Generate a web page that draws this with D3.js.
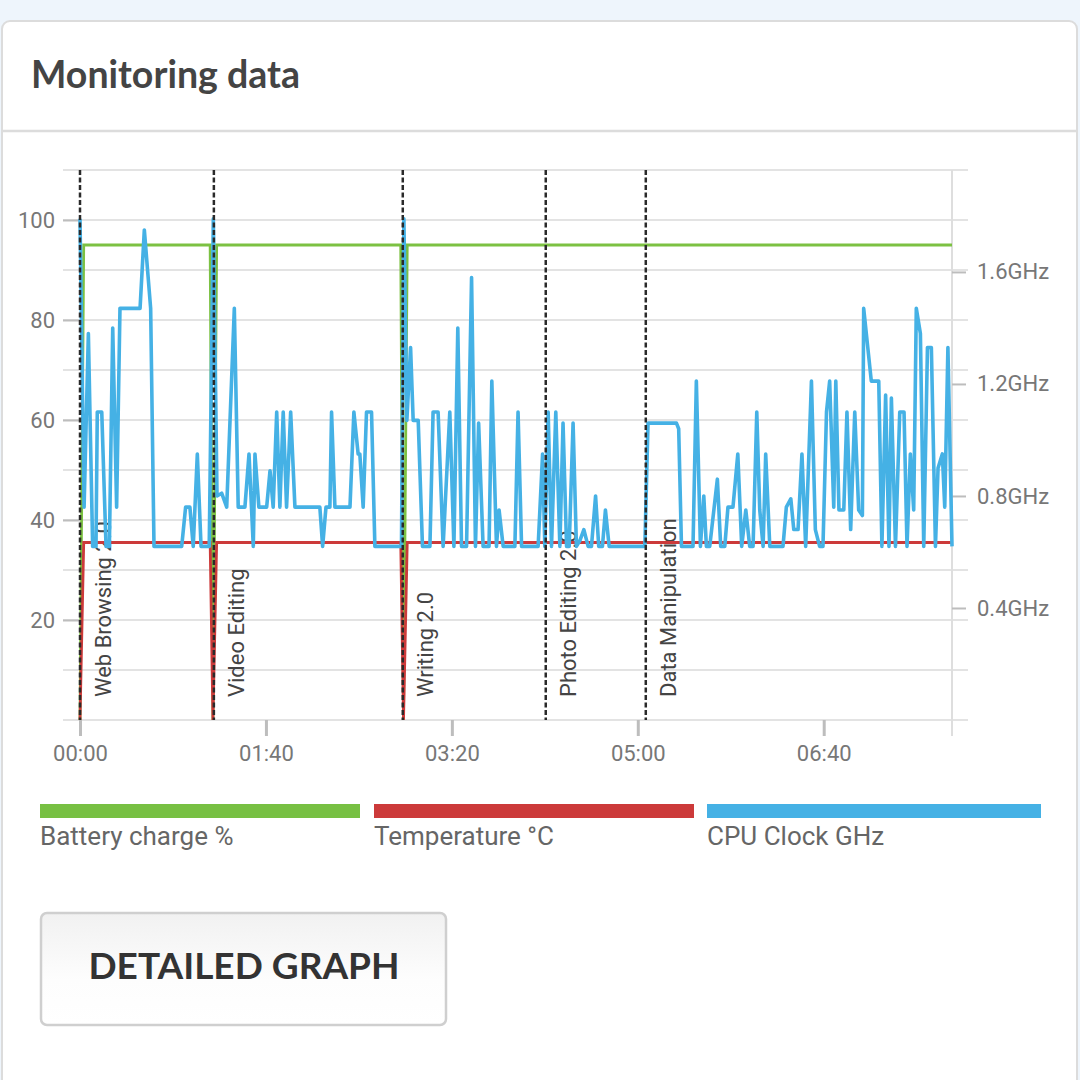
<!DOCTYPE html>
<html>
<head>
<meta charset="utf-8">
<script src="https://cdn.jsdelivr.net/npm/d3@7"></script>
<style>
  html, body { margin: 0; padding: 0; background: #eef5fc; }
  svg { display: block; }
</style>
</head>
<body>
<svg id="chart" width="1080" height="1080"></svg>
<script>
// time in minutes
var batteryTime = [0, 2, 70, 71.5, 73.5, 172.5, 174, 176, 469]
var batteryValue = [0, 95, 95, 0, 95, 95, 0, 95, 95]

var tempTime = [0, 2, 70, 71.5, 73.5, 172.5, 174, 176, 469]
var tempValue = [0, 35.5, 35.5, 0, 35.5, 35.5, 0, 35.5, 35.5]

var cpuTime = [
  0, 2.2, 4.5, 6.8, 8.6, 9.3, 11.7, 14, 15.8, 17.6, 19.7, 21.5, 32.3, 34.6, 38, 39.8,
  54.7, 56.8, 59.1, 60.9, 63.1, 65.1, 69.5,
  71.7, 73.7, 76.2, 78.9, 83, 85.1, 88.7, 90.9, 93.2, 94.1, 96.2, 100.4, 102.2, 103.9,
  105.8, 107.5, 109.3, 111.1, 113.3, 115.6, 129, 130.5, 132.3, 134.4, 135.3, 137.1,
  145.2, 147.3, 149.6, 150.5, 152.3, 154.1, 156.8, 158.6, 172.9,
  174.2, 175.8, 177.8, 179.2, 181.9, 184.2, 188.2, 189.9, 192.6, 195.3, 198.9, 201.1,
  203.2, 205.2, 207.9, 210.6, 212.7, 214.4, 216.8, 220, 221.5, 224, 225.4, 227.6,
  233.9, 235.6, 237.5, 246.4, 248.8, 250, 251.8, 253.6, 255.9, 258.1, 259.8, 261.7,
  263.1, 265.2, 267, 268.8, 271, 273.3, 275.1, 277.3, 279, 281, 282.6, 284.6,
  303.8, 305.5, 320.8, 322, 323.5, 329.7, 331.5, 333.7, 335.5, 336.9, 338.7, 342.8,
  344.6, 346.8, 348.5, 351.2, 353.8, 355.9, 358.1, 360.2, 362, 364, 365.6, 367.4,
  368.8, 371, 378.1, 379.9, 382.3, 383.9, 386.2, 388.3, 390.3, 393.4, 395.5, 397.8,
  399.6, 401.5, 403.2, 405.4, 406.5, 408.2, 410.8, 412.5, 414.5, 416.7, 418.8, 420.8,
  421.5, 425.6, 429.6, 431.3, 433.3, 435.1, 436.4, 438.6, 440.9, 443.2, 444.8, 446.6,
  448.4, 449.8, 452, 453.8, 455.8, 457.9, 460.1, 461.5, 463.8, 465.1, 466.8, 469
]
var cpuGHz = [
  1.79, 0.76, 1.38, 0.62, 0.62, 1.10, 1.10, 0.62, 0.62, 1.40, 0.76, 1.47, 1.47, 1.75, 1.47, 0.62,
  0.62, 0.76, 0.76, 0.62, 0.95, 0.62, 0.62,
  1.79, 0.80, 0.81, 0.76, 1.47, 0.76, 0.76, 0.95, 0.62, 0.95, 0.76, 0.76, 0.89, 0.76,
  1.10, 0.76, 1.10, 0.76, 1.10, 0.76, 0.76, 0.62, 0.76, 0.76, 1.10, 0.76,
  0.76, 1.10, 0.95, 0.95, 0.76, 1.10, 1.10, 0.62, 0.62,
  1.79, 1.07, 1.33, 1.07, 1.07, 0.62, 0.62, 1.10, 1.10, 0.62, 1.10, 0.62,
  1.40, 0.62, 0.62, 1.58, 0.62, 1.06, 0.62, 0.62, 1.21, 0.62, 0.75, 0.62,
  0.62, 1.10, 0.62, 0.62, 0.95, 0.62, 1.10, 0.62, 1.10, 0.62, 1.06, 0.62,
  0.62, 1.06, 0.62, 0.64, 0.68, 0.62, 0.62, 0.80, 0.62, 0.62, 0.75, 0.62,
  0.62, 1.06, 1.06, 1.04, 0.62, 0.62, 1.21, 0.62, 0.80, 0.62, 0.62, 0.86,
  0.62, 0.62, 0.76, 0.76, 0.95, 0.62, 0.75, 0.62, 0.62, 1.10, 0.75, 0.62,
  0.95, 0.62, 0.62, 0.76, 0.79, 0.68, 0.68, 0.95, 0.62, 1.21, 0.68, 0.62,
  0.62, 1.10, 1.21, 0.76, 1.21, 0.75, 0.75, 1.10, 0.68, 1.10, 0.75, 0.73,
  1.47, 1.21, 1.21, 0.62, 1.16, 0.62, 1.15, 0.62, 1.10, 1.10, 0.62, 0.95,
  0.75, 1.47, 1.38, 0.62, 1.33, 1.33, 0.62, 0.90, 0.95, 0.76, 1.33, 0.62
]

var markerTime = [0, 72, 173.6, 250.5, 304.3]
var markerLabel = ['Web Browsing 2.0', 'Video Editing', 'Writing 2.0', 'Photo Editing 2.0', 'Data Manipulation']

var xTicks = [0, 100, 200, 300, 400]
var leftTicks = [20, 40, 60, 80, 100]
var rightTicks = [0.4, 0.8, 1.2, 1.6]
var gridValues = d3.range(0, 111, 10)

var legendNames = ['Battery charge %', 'Temperature °C', 'CPU Clock GHz']
var legendColors = ['#77c043', '#cc3a3a', '#45b1e5']

var svg = d3.select('#chart')

// card
svg.append('rect').attr('width', 1080).attr('height', 1080).attr('fill', '#eef5fc')
svg.append('rect')
    .attr('x', 2).attr('y', 21).attr('width', 1075).attr('height', 1090)
    .attr('rx', 8)
    .attr('fill', '#fff')
    .attr('stroke', '#dcdcdc').attr('stroke-width', 2)
svg.append('line')
    .attr('x1', 2).attr('x2', 1077).attr('y1', 131).attr('y2', 131)
    .attr('stroke', '#dcdcdc').attr('stroke-width', 2.5)
svg.append('text')
    .attr('x', 31).attr('y', 88)
    .style('font-family', 'Lato').style('font-weight', 700).style('font-size', '37.5px')
    .attr('fill', '#444')
    .text('Monitoring data')

var x = d3.scaleLinear().domain([0, 469]).range([80, 952])
var yL = d3.scaleLinear().domain([0, 110]).range([720, 170])
var yR = d3.scaleLinear().domain([0, 1.964]).range([720, 170])

var fmtTime = function (t) {
  var h = Math.floor(t / 60), m = Math.round(t % 60)
  return (h < 10 ? '0' : '') + h + ':' + (m < 10 ? '0' : '') + m
}

var plot = svg.append('g')

// grid
plot.selectAll('line.grid')
    .data(gridValues)
    .enter().append('line')
    .attr('class', 'grid')
    .attr('x1', 63).attr('x2', 968)
    .attr('y1', function (d) { return yL(d) })
    .attr('y2', function (d) { return yL(d) })
    .attr('stroke', '#e3e3e3').attr('stroke-width', 2)

// right axis line
plot.append('line')
    .attr('x1', 952).attr('x2', 952).attr('y1', 170).attr('y2', 736)
    .attr('stroke', '#dedede').attr('stroke-width', 2)

var leftAxis = plot.append('g')
    .attr('transform', 'translate(80,0)')
    .call(d3.axisLeft(yL).tickValues(leftTicks).tickSize(17).tickPadding(8))
var rightAxis = plot.append('g')
    .attr('transform', 'translate(952,0)')
    .call(d3.axisRight(yR).tickValues(rightTicks).tickSize(14).tickPadding(11)
      .tickFormat(function (d) { return d.toFixed(1) + 'GHz' }))
var bottomAxis = plot.append('g')
    .attr('transform', 'translate(0,720)')
    .call(d3.axisBottom(x).tickValues(xTicks).tickSize(16).tickPadding(9).tickFormat(fmtTime))

;[leftAxis, rightAxis, bottomAxis].forEach(function (a) {
  a.select('.domain').remove()
  a.selectAll('text')
      .style('font-family', 'Roboto').style('font-size', '22px').attr('fill', '#777')
  a.selectAll('line').attr('stroke', '#bdbdbd').attr('stroke-width', 2)
})
bottomAxis.selectAll('line').attr('stroke-width', 3)

// marker labels (under the lines)
plot.selectAll('text.marker')
    .data(markerTime)
    .enter().append('text')
    .attr('class', 'marker')
    .attr('transform', function (d) { return 'translate(' + (x(d) + 23) + ',697) rotate(-90)' })
    .attr('dominant-baseline', 'central')
    .style('font-family', 'Roboto').style('font-size', '22px')
    .attr('fill', '#444')
    .text(function (d, i) { return markerLabel[i] })

var lineL = d3.line()
    .x(function (d) { return x(d[0]) })
    .y(function (d) { return yL(d[1]) })
var lineR = d3.line()
    .x(function (d) { return x(d[0]) })
    .y(function (d) { return yR(d[1]) })

var battery = batteryTime.map(function (t, i) { return [t, batteryValue[i]] })
var temp = tempTime.map(function (t, i) { return [t, tempValue[i]] })
var cpu = cpuTime.map(function (t, i) { return [t, cpuGHz[i]] })

plot.append('path').datum(battery)
    .attr('d', lineL).attr('fill', 'none')
    .attr('stroke', '#7cc142').attr('stroke-width', 2.8)
plot.append('path').datum(temp)
    .attr('d', lineL).attr('fill', 'none')
    .attr('stroke', '#cc3a3a').attr('stroke-width', 2.8)
plot.append('path').datum(cpu)
    .attr('d', lineR).attr('fill', 'none')
    .attr('stroke', '#45b1e5').attr('stroke-width', 3.6)
    .attr('stroke-linejoin', 'round')

// dashed markers
plot.selectAll('line.marker')
    .data(markerTime)
    .enter().append('line')
    .attr('class', 'marker')
    .attr('x1', function (d) { return x(d) }).attr('x2', function (d) { return x(d) })
    .attr('y1', 170).attr('y2', 720)
    .attr('stroke', '#2a2a2a').attr('stroke-width', 2.5)
    .attr('stroke-dasharray', '5,2.5')

// legend
var legW = [320, 320, 334]
var legX = [40, 374, 707]
var leg = svg.selectAll('g.leg')
    .data(legendNames)
    .enter().append('g')
    .attr('class', 'leg')
    .attr('transform', function (d, i) { return 'translate(' + legX[i] + ',0)' })
leg.append('rect')
    .attr('y', 804).attr('height', 14)
    .attr('width', function (d, i) { return legW[i] })
    .attr('fill', function (d, i) { return legendColors[i] })
leg.append('text')
    .attr('y', 845)
    .style('font-family', 'Roboto').style('font-size', '26px')
    .attr('fill', '#666')
    .text(function (d) { return d })

// button
var grad = svg.append('defs').append('linearGradient')
    .attr('id', 'btn').attr('x1', 0).attr('x2', 0).attr('y1', 0).attr('y2', 1)
grad.append('stop').attr('offset', '0%').attr('stop-color', '#f1f1f1')
grad.append('stop').attr('offset', '60%').attr('stop-color', '#fdfdfd')
grad.append('stop').attr('offset', '100%').attr('stop-color', '#fff')
svg.append('rect')
    .attr('x', 41).attr('y', 913).attr('width', 405).attr('height', 112)
    .attr('rx', 6)
    .attr('fill', 'url(#btn)')
    .attr('stroke', '#cfcfcf').attr('stroke-width', 2.5)
svg.append('text')
    .attr('x', 244).attr('y', 979)
    .attr('text-anchor', 'middle')
    .style('font-family', 'Lato').style('font-weight', 700).style('font-size', '37px')
    .attr('fill', '#333')
    .text('DETAILED GRAPH')
</script>
</body>
</html>
